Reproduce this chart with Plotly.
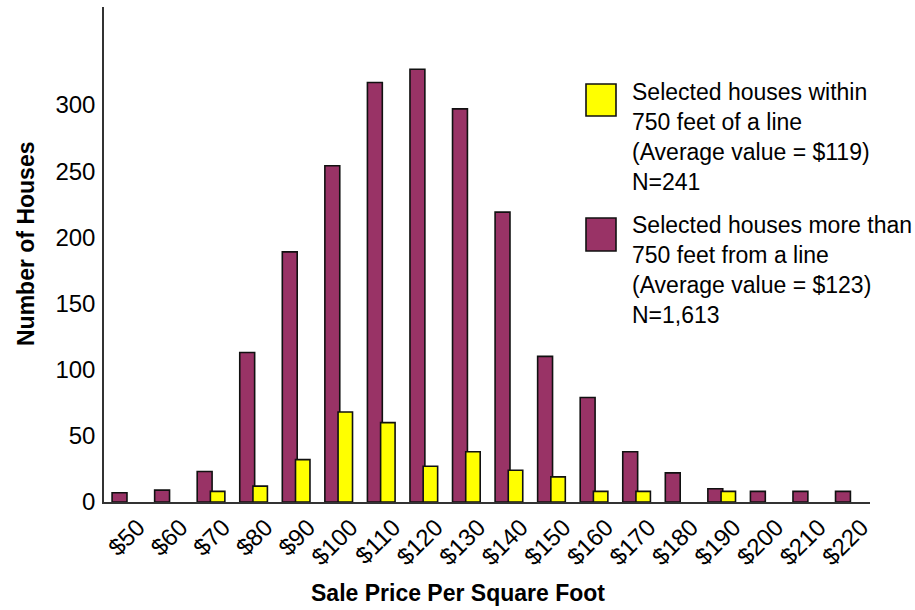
import plotly.graph_objects as go

# Price bins ($ per square foot) and house counts per bin
price_bins = ["$50", "$60", "$70", "$80", "$90", "$100", "$110", "$120", "$130",
              "$140", "$150", "$160", "$170", "$180", "$190", "$200", "$210", "$220"]
far_counts = [7, 9, 23, 113, 189, 254, 317, 327, 297, 219, 110, 79, 38, 22, 10, 8, 8, 8]
near_counts = [0, 0, 8, 12, 32, 68, 60, 27, 38, 24, 19, 8, 8, 0, 8, 0, 0, 0]

y_ticks = [0, 50, 100, 150, 200, 250, 300]

near_label = "Selected houses within<br>750 feet of a line<br>(Average value = $119)<br>N=241"
far_label = "Selected houses more than<br>750 feet from a line<br>(Average value = $123)<br>N=1,613"

MAROON = "#993366"
YELLOW = "#FFFF00"
FONT = "Liberation Sans, Arial, sans-serif"

W, H = 915, 610
L, R, T, B = 104, 45, 7, 108
PW, PH = W - L - R, H - T - B

def px(x):
    return (x - L) / PW

def py(y):
    return (H - B - y) / PH

xs = list(range(len(price_bins)))
# rotated labels sit slightly right of the bin centre
label_pos = [x + 0.3 for x in xs]

fig = go.Figure()
fig.add_trace(go.Bar(
    x=xs, y=far_counts, width=0.35, offset=-0.31,
    marker=dict(color=MAROON, line=dict(color="#111111", width=1.6)),
    name="far", showlegend=False,
))
fig.add_trace(go.Bar(
    x=[x for x, v in zip(xs, near_counts) if v > 0],
    y=[v for v in near_counts if v > 0],
    width=0.34, offset=0.0,
    marker=dict(color=YELLOW, line=dict(color="#111111", width=1.6)),
    name="near", showlegend=False,
))

fig.update_layout(
    width=W, height=H,
    margin=dict(l=L, r=R, t=T, b=B, autoexpand=False),
    barmode="overlay",
    plot_bgcolor="white", paper_bgcolor="white",
    font=dict(family=FONT, size=22, color="black"),
    xaxis=dict(
        range=[-0.5, len(price_bins) - 0.5],
        tickvals=label_pos, ticktext=price_bins, tickangle=-45,
        showline=True, linecolor="#333333", linewidth=1.5,
        showgrid=False, zeroline=False, ticks="",
        ticklabelstandoff=0,
        tickfont=dict(size=24),
    ),
    yaxis=dict(
        range=[0, 374], tickvals=y_ticks,
        showline=True, linecolor="#333333", linewidth=1.5,
        showgrid=False, zeroline=False, ticks="",
        ticklabelstandoff=2,
        tickfont=dict(size=24),
    ),
)

# Axis titles
fig.add_annotation(text="<b>Sale Price Per Square Foot</b>", xref="paper", yref="paper",
                   x=px(458), y=py(593), showarrow=False, font=dict(size=23),
                   xanchor="center", yanchor="middle")
fig.add_annotation(text="<b>Number of Houses</b>", xref="paper", yref="paper",
                   x=px(26), y=py(244), showarrow=False, font=dict(size=23),
                   textangle=-90, xanchor="center", yanchor="middle")

# Legend swatches and text
for color, top, bottom, label, mid in [
    (YELLOW, 84, 116, near_label, 137),
    (MAROON, 218, 251, far_label, 270),
]:
    fig.add_shape(type="rect", xref="paper", yref="paper",
                  x0=px(586), x1=px(616), y0=py(bottom), y1=py(top),
                  fillcolor=color, line=dict(color="#111111", width=1.6))
    fig.add_annotation(text=label, xref="paper", yref="paper",
                       x=px(630), y=py(mid), showarrow=False, align="left",
                       xanchor="left", yanchor="middle", font=dict(size=23))

fig.write_html("out.html")
